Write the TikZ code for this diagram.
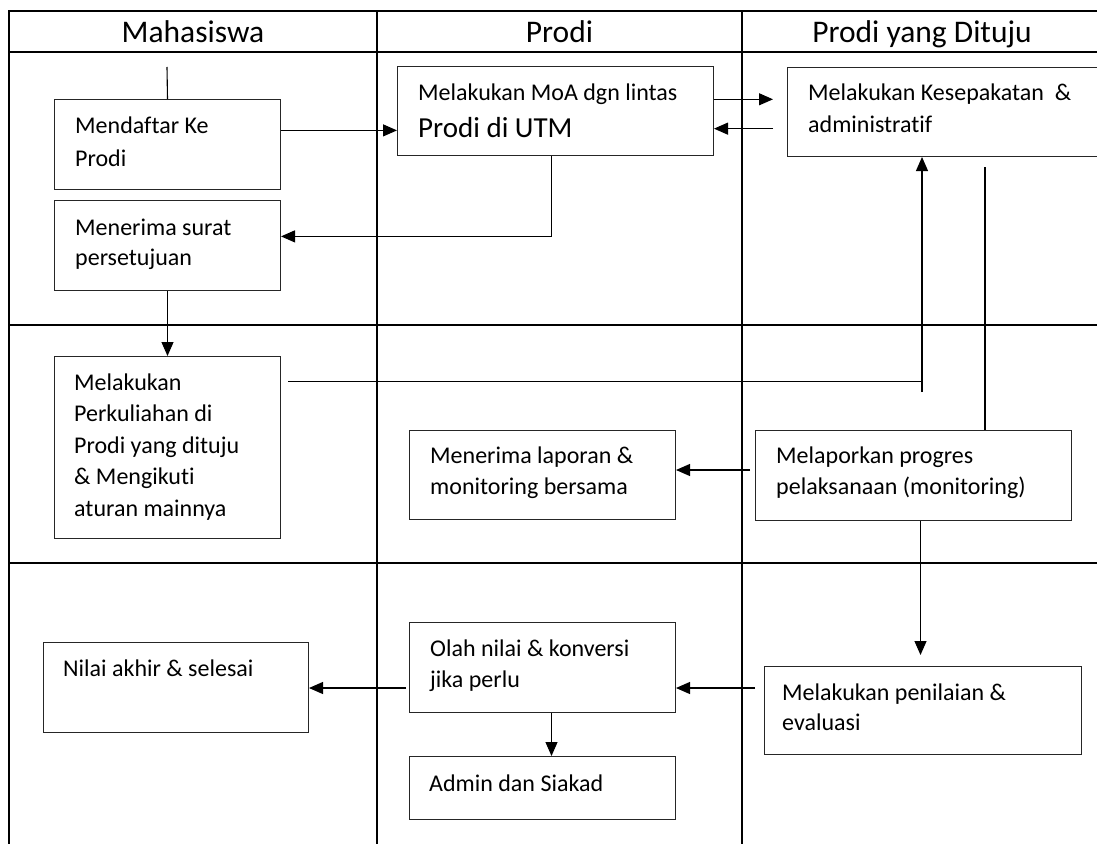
\documentclass[tikz,border=0pt]{standalone}
\usepackage{fontspec}
\setmainfont{Carlito}[Ligatures=NoCommon]
\usetikzlibrary{arrows.meta,calc}
\newcommand\boxfont{\fontsize{24}{31.5}\selectfont}
\newcommand\lines[1]{\begin{tabular}[t]{@{}l@{}}#1\end{tabular}}
\begin{document}
\begin{tikzpicture}[x=1pt,y=-1pt,
  lane/.style={line width=2.2pt},
  box/.style={draw=black!85,line width=1pt,rectangle,inner sep=0pt,anchor=north west},
  txt/.style={inner sep=0pt,anchor=base west,font=\boxfont},
  head/.style={inner sep=0pt,anchor=base,font=\fontsize{31.5}{36}\selectfont},
  link/.style={line width=1.1pt},
  arrow/.style={link,-{Triangle[length=14pt,width=12pt]}}]

\clip (0,0) rectangle (1097,843);
\fill[white] (0,0) rectangle (1097,843);

% swimlane grid
\draw[lane] (1110,11) -- (9,11) -- (9,860);
\draw[lane] (9,52) -- (1110,52);
\draw[lane] (9,325) -- (1110,325);
\draw[lane] (9,563) -- (1110,563);
\draw[lane] (377,11) -- (377,860);
\draw[lane] (742,11) -- (742,860);

% lane headings
\node[head] (hMhs) at (193,43) {Mahasiswa};
\node[head] (hProdi) at (559.5,43) {Prodi};
\node[head] (hTuju) at (922,43) {Prodi yang Dituju};

% process boxes
\node[box,minimum width=226,minimum height=90] (daftar) at (54,99) {};
\node[box,minimum width=226,minimum height=90] (surat) at (54,200) {};
\node[box,minimum width=226,minimum height=182] (perk) at (54,356) {};
\node[box,minimum width=316,minimum height=89] (moa) at (397,66) {};
\node[box,minimum width=330,minimum height=89] (kes) at (787,67) {};
\node[box,minimum width=266,minimum height=89] (terima) at (409,430) {};
\node[box,minimum width=316,minimum height=90] (lap) at (755,430) {};
\node[box,minimum width=265,minimum height=90] (nilai) at (43,642) {};
\node[box,minimum width=266,minimum height=90] (olah) at (409,622) {};
\node[box,minimum width=266,minimum height=63] (admin) at (409,756) {};
\node[box,minimum width=317,minimum height=88] (pen) at (764,666) {};

% box texts
\node[txt] (tdaftar) at (75,133) {\lines{Mendaftar Ke\\[1.5pt]Prodi}};
\node[txt] (tsurat) at (75,235) {\lines{Menerima surat\\[-1.5pt]persetujuan}};
\node[txt] (tperk) at (74,390) {\lines{Melakukan\\Perkuliahan di\\Prodi yang dituju\\\& Mengikuti\\aturan mainnya}};
\node[txt] (tmoa) at (418,100) {\lines{Melakukan MoA dgn lintas\\[5.5pt]{\fontsize{29}{34}\selectfont Prodi di UTM}}};
\node[txt] (tkes) at (808,100) {\lines{Melakukan Kesepakatan\ \ \&\\[0.5pt]administratif}};
\node[txt] (tterima) at (430,463) {\lines{Menerima laporan \&\\[-0.5pt]monitoring bersama}};
\node[txt] (tlap) at (776,463) {\lines{Melaporkan progres\\[-0.5pt]pelaksanaan (monitoring)}};
\node[txt] (tnilai) at (63,676) {Nilai akhir \& selesai};
\node[txt] (tolah) at (430,656) {\lines{Olah nilai \& konversi\\[-0.5pt]jika perlu}};
\node[txt] (tadmin) at (429,791) {Admin dan Siakad};
\node[txt] (tpen) at (782,700) {\lines{Melakukan penilaian \&\\[-1.5pt]evaluasi}};

% connector anchors
\coordinate (topin) at (167,67);
\coordinate (d1) at ($(daftar.north east)!0.345!(daftar.south east)$);
\coordinate (m1) at ($(moa.north east)!0.37!(moa.south east)$);
\coordinate (m1e) at ($(kes.west |- m1)+(-14,0)$);
\coordinate (k1) at ($(kes.north west)!0.685!(kes.south west)+(-14,0)$);
\coordinate (m2) at ([xshift=-4pt]moa.south);
\coordinate (s1) at ($(surat.north east)!0.4!(surat.south east)$);
\coordinate (p1) at ($(perk.north east)!0.137!(perk.south east)+(7,0)$);
\coordinate (up) at (922,392);
\coordinate (down) at (985,167);
\coordinate (l1) at (750,470);
\coordinate (l2) at ([xshift=7pt]lap.south);
\coordinate (l2e) at ($(l2 |- pen.north)+(0,-11)$);
\coordinate (pe1) at (755,688);
\coordinate (o1) at (406,688);

% connectors
\draw[link] (topin) -- (daftar.north);
\draw[arrow] (d1) -- (d1 -| moa.west);
\draw[arrow] (m1) -- (m1e);
\draw[arrow] (k1) -- (k1 -| moa.east);
\draw[arrow] (m2) |- (s1);
\draw[arrow] (surat.south) -- (perk.north);
\draw[link] (p1) -- (p1 -| up);
\draw[arrow] (up) -- (up |- kes.south);
\draw[link] (down) -- (down |- lap.north);
\draw[arrow] (l1) -- (l1 -| terima.east);
\draw[arrow] (l2) -- (l2e);
\draw[arrow] (pe1) -- (pe1 -| olah.east);
\draw[arrow] (o1) -- (o1 -| nilai.east);
\draw[arrow] ([xshift=9pt]olah.south) -- ([xshift=9pt]admin.north);
\end{tikzpicture}
\end{document}
